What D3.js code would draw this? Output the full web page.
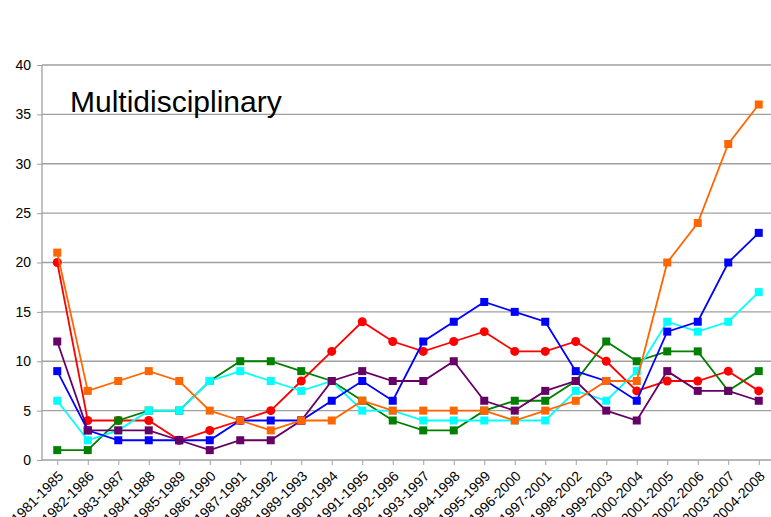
<!DOCTYPE html>
<html>
<head>
<meta charset="utf-8">
<script src="https://cdn.jsdelivr.net/npm/d3@7"></script>
<style>
body{margin:0;background:#fff;}
svg{display:block;font-family:"Liberation Sans",Arial,sans-serif;}
</style>
</head>
<body>
<div id="chart"></div>
<script>
var periods = ["1981-1985","1982-1986","1983-1987","1984-1988","1985-1989","1986-1990","1987-1991","1988-1992","1989-1993","1990-1994","1991-1995","1992-1996","1993-1997","1994-1998","1995-1999","1996-2000","1997-2001","1998-2002","1999-2003","2000-2004","2001-2005","2002-2006","2003-2007","2004-2008"];
var red    = [20,4,4,4,2,3,4,5,8,11,14,12,11,12,13,11,11,12,10,7,8,8,9,7];
var green  = [1,1,4,5,5,8,10,10,9,8,6,4,3,3,5,6,6,8,12,10,11,11,7,9];
var cyan   = [6,2,3,5,5,8,9,8,7,8,5,5,4,4,4,4,4,7,6,9,14,13,14,17];
var blue   = [9,3,2,2,2,2,4,4,4,6,8,6,12,14,16,15,14,9,8,6,13,14,20,23];
var purple = [12,3,3,3,2,1,2,2,4,8,9,8,8,10,6,5,7,8,5,4,9,7,7,6];
var orange = [21,7,8,9,8,5,4,3,4,4,6,5,5,5,5,4,5,6,8,8,20,24,32,36];
var yTicks = [0,5,10,15,20,25,30,35,40];

// drawing order = bottom to top
var series = [
  {name:"red", values:red, color:"#ff0000", shape:"circle"},
  {name:"green", values:green, color:"#008000", shape:"square"},
  {name:"cyan", values:cyan, color:"#00ffff", shape:"square"},
  {name:"blue", values:blue, color:"#0000ff", shape:"square"},
  {name:"purple", values:purple, color:"#660066", shape:"square"},
  {name:"orange", values:orange, color:"#ff6600", shape:"square"}
];

var W = 771, H = 517;
var plotLeft = 42, plotTop = 65, plotBottom = 460;
var band = 30.5;
var plotRight = plotLeft + band*periods.length;

var svg = d3.select("#chart").append("svg")
	.attr("width", W)
	.attr("height", H);

var x = d3.scalePoint().domain(periods).range([plotLeft+band/2, plotRight-band/2]);
var y = d3.scaleLinear().domain([0,40]).range([plotBottom, plotTop]);

// gridlines
svg.append("g").selectAll("line")
	.data(yTicks.filter(function(d){return d>0}))
	.enter().append("line")
	.attr("x1", plotLeft).attr("x2", W)
	.attr("y1", function(d){return y(d)}).attr("y2", function(d){return y(d)})
	.attr("stroke", "#a0a0a0").attr("stroke-width", 1.3);

// y axis
var yAxis = svg.append("g")
	.attr("transform", "translate(" + plotLeft + ",0)")
	.call(d3.axisLeft(y).tickValues(yTicks).tickSize(5).tickPadding(6));
yAxis.select(".domain").attr("stroke", "#a0a0a0").attr("stroke-width", 1.3).attr("d", "M0," + plotTop + "V" + plotBottom);
yAxis.selectAll(".tick line").attr("stroke", "#a0a0a0");
yAxis.selectAll("text").attr("font-size", "14px").attr("fill", "#000").attr("font-family", "Liberation Sans, Arial, sans-serif");

// x axis
var xAxis = svg.append("g")
	.attr("transform", "translate(0," + plotBottom + ")")
	.call(d3.axisBottom(x).tickSize(5).tickFormat(""));
xAxis.select(".domain").attr("stroke", "#a0a0a0").attr("stroke-width", 1.3).attr("d", "M" + plotLeft + ",0H" + W);
xAxis.selectAll(".tick line").attr("stroke", "#a0a0a0");

svg.append("g").selectAll("text")
	.data(periods)
	.enter().append("text")
	.attr("transform", function(d){return "translate(" + (x(d)+7) + "," + (plotBottom+17) + ") rotate(-45)"})
	.attr("text-anchor", "end")
	.attr("font-size", "14px")
	.attr("fill", "#000")
	.text(function(d){return d});

// title
svg.append("text")
	.attr("x", 70).attr("y", 112)
	.attr("font-size", "30px")
	.attr("fill", "#000")
	.text("Multidisciplinary");

var line = d3.line()
	.x(function(d,i){return x(periods[i])})
	.y(function(d){return y(d)});

series.forEach(function(s){
	var g = svg.append("g").attr("class", "s-" + s.name);
	g.append("path")
		.datum(s.values)
		.attr("d", line)
		.attr("fill", "none")
		.attr("stroke", s.color)
		.attr("stroke-width", 1.8);
	if(s.shape == "circle"){
		g.selectAll("circle").data(s.values).enter().append("circle")
			.attr("cx", function(d,i){return x(periods[i])})
			.attr("cy", function(d){return y(d)})
			.attr("r", 4.5)
			.attr("fill", s.color);
	} else {
		g.selectAll("rect").data(s.values).enter().append("rect")
			.attr("x", function(d,i){return x(periods[i])-4})
			.attr("y", function(d){return y(d)-4})
			.attr("width", 8).attr("height", 8)
			.attr("fill", s.color);
	}
});
</script>
</body>
</html>
